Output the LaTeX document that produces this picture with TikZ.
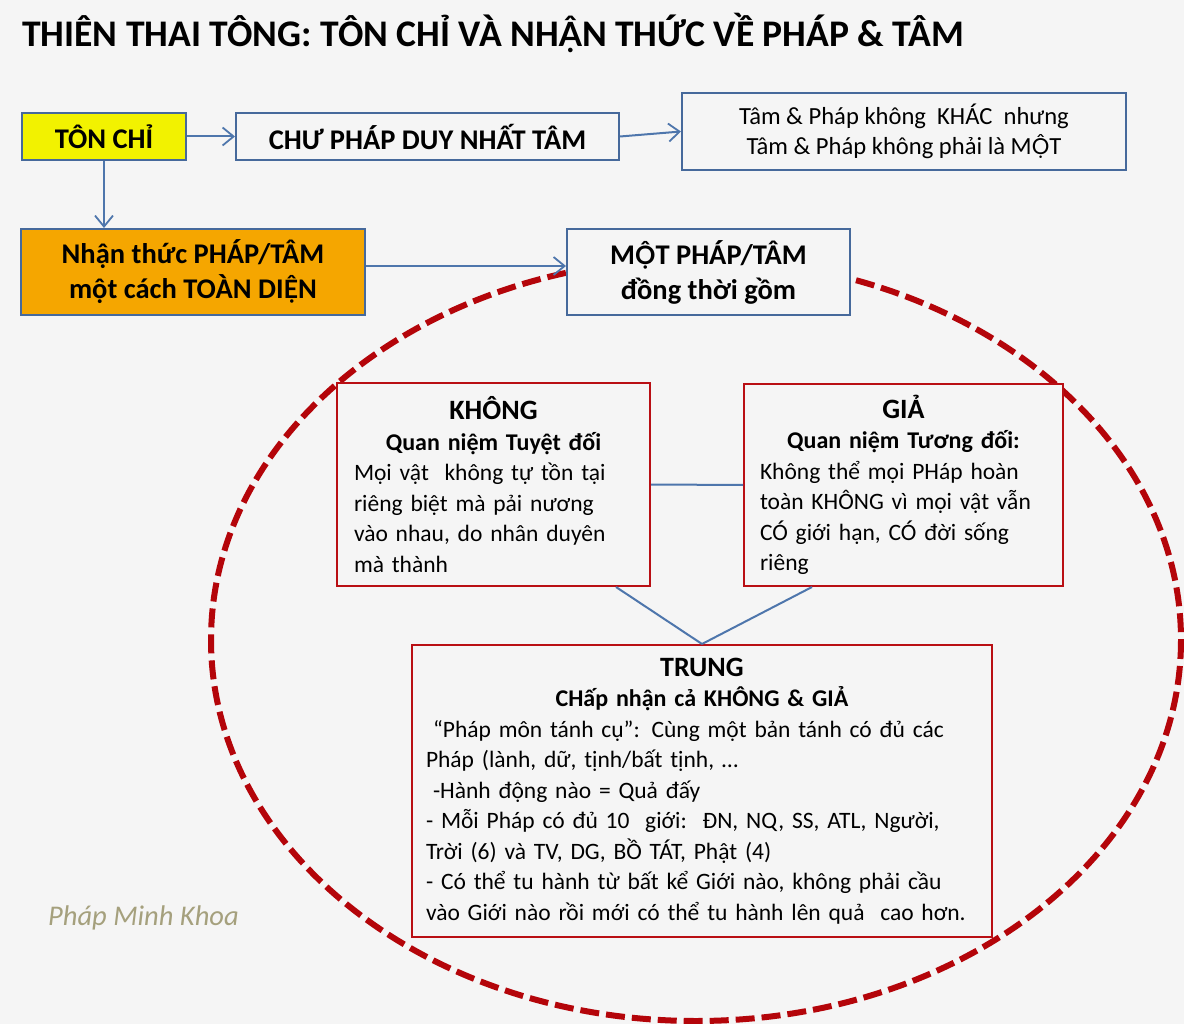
\documentclass[tikz,border=0pt]{standalone}
\usepackage{fontspec}
\setmainfont{Carlito}
\newfontfamily\latofont[Scale=MatchUppercase]{Lato}
\newcommand{\VN}[1]{{\latofont #1}}
\usetikzlibrary{arrows.meta}
\definecolor{bg}{RGB}{245,245,245}
\definecolor{boxblue}{RGB}{70,105,155}
\definecolor{arrowblue}{RGB}{78,118,172}
\definecolor{boxred}{RGB}{185,15,20}
\definecolor{ellred}{RGB}{180,5,10}
\definecolor{tyellow}{RGB}{242,242,0}
\definecolor{torange}{RGB}{245,166,0}
\definecolor{sig}{RGB}{165,160,125}
\begin{document}
\begin{tikzpicture}[x=1pt,y=-1pt,
  bbox/.style={draw=boxblue,line width=2pt,fill=bg,inner sep=0pt,align=center},
  rbox/.style={draw=boxred,line width=2pt,fill=bg,inner sep=0pt},
  arr/.style={draw=arrowblue,line width=2pt,-{Straight Barb[length=11pt,width=18pt,line width=1.8pt]}},
  conn/.style={draw=arrowblue,line width=2pt},
  body/.style={font=\fontsize{24.6}{30.5}\selectfont},
  rbody/.style={font=\fontsize{23.5}{30.5}\selectfont},
  head/.style={font=\fontsize{28.5}{35}\selectfont\bfseries}]
\newcommand{\sub}[1]{{\fontsize{24}{30.5}\selectfont\bfseries #1\par}}
\newcommand{\hd}[1]{{\fontsize{28}{32}\selectfont\bfseries #1\par}}
\path[fill=bg] (0,0) rectangle (1184,1024);
\node[anchor=base west, inner sep=0pt, font=\fontsize{37.6}{44}\selectfont\bfseries] (title) at (22,47) {THIÊN THAI TÔNG: TÔN CHỈ VÀ NH\VN{Ậ}N THỨC VỀ PHÁP \& TÂM};
\draw[ellred, line width=6pt, dash pattern=on 19pt off 7pt] (696,640) ellipse [x radius=485, y radius=381];
\node[bbox, fill=tyellow, minimum width=164pt, minimum height=47pt, head] (ton) at (104,136.5) {TÔN CHỈ};
\node[bbox, minimum width=383pt, minimum height=47pt, head] (chu) at (427.5,136.5) {CHƯ PHÁP DUY NHẤT TÂM};
\node[bbox, minimum width=444pt, minimum height=77pt, body] (tam) at (904,131.5) {Tâm \& Pháp không\ \ KHÁC\ \ nhưng\\Tâm \& Pháp không phải là M\VN{Ộ}T};
\node[bbox, fill=torange, minimum width=344pt, minimum height=86pt, head] (nhan) at (193,272) {Nhận thức PHÁP/TÂM\\một cách TOÀN DI\VN{Ệ}N};
\node[bbox, minimum width=283pt, minimum height=86pt, head] (mot) at (708.5,272) {M\VN{Ộ}T PHÁP/TÂM\\đồng thời gồm};
\node[rbox, minimum width=313pt, minimum height=203pt, text width=279pt, rbody] (khong) at (493.5,484.5) {\centering\hd{KHÔNG}\sub{Quan niệm Tuyệt đối}\raggedright Mọi vật\ \ không tự tồn tại\\riêng biệt mà pải nương\\vào nhau, do nhân duyên\\mà thành\par};
\node[rbox, minimum width=319pt, minimum height=202pt, text width=287pt, rbody] (gia) at (903.5,485) {\centering\hd{GIẢ}\sub{Quan niệm Tương đối:}\raggedright Không thể mọi PHáp hoàn\\toàn KHÔNG vì mọi vật vẫn\\CÓ giới hạn, CÓ đời sống\\riêng\par};
\node[rbox, minimum width=580pt, minimum height=292pt, text width=552pt, rbody] (trung) at (702,791) {\centering\hd{TRUNG}\sub{CHấp nhận cả KHÔNG \& GIẢ}\raggedright\hspace*{0.3em}“Pháp môn tánh cụ”: Cùng một bản tánh có đủ các\\Pháp (lành, dữ, tịnh/bất tịnh, …\\\hspace*{0.3em}-Hành động nào = Quả đấy\\- Mỗi Pháp có đủ 10\ \ giới:\ \ ĐN, NQ, SS, ATL, Người,\\Trời (6) và TV, DG, BỒ TÁT, Phật (4)\\- Có thể tu hành từ bất kể Giới nào, không phải cầu\\vào Giới nào rồi mới có thể tu hành lên quả\ \ cao hơn.\par};
\node[anchor=base west, inner sep=0pt, font=\fontsize{28.5}{34}\selectfont\itshape, text=sig] (sign) at (48,925) {Pháp Minh Khoa};
\draw[arr] (ton.east) -- (chu.west);
\draw[arr] (chu.east) -- (tam.west);
\draw[arr] (ton.south) -- (ton.south |- nhan.north);
\draw[arr] ([yshift=6pt]nhan.east) -- ([yshift=6pt]nhan.east -| mot.west);
\draw[conn] (khong.east) -- (gia.west);
\draw[conn] ([xshift=-35pt]khong.south east) -- (trung.north);
\draw[conn] ([xshift=69pt]gia.south west) -- (trung.north);
\end{tikzpicture}
\end{document}
